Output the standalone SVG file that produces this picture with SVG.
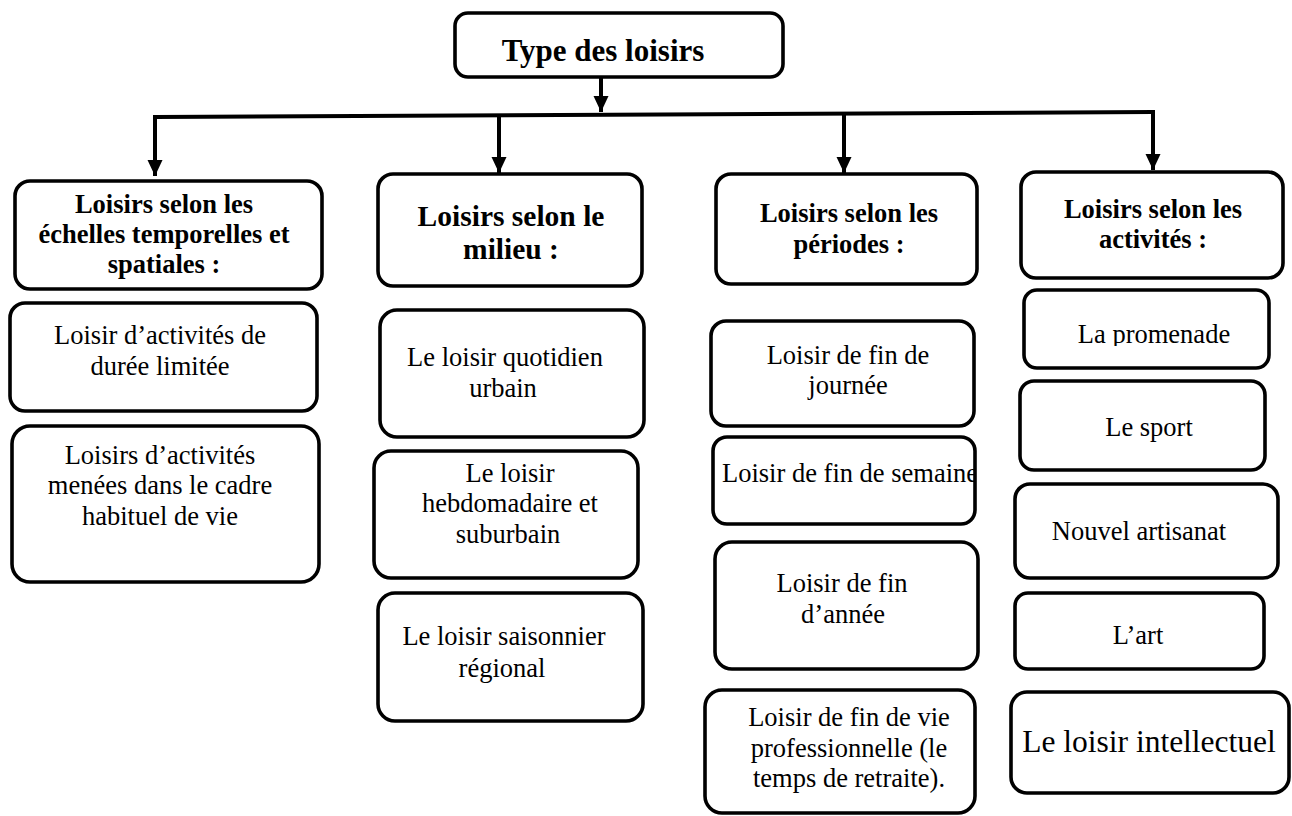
<svg xmlns="http://www.w3.org/2000/svg" width="1292" height="816" viewBox="0 0 1292 816">
<style>
.box{fill:#fff;stroke:#000;stroke-width:3.6}
.t{font-family:"Liberation Serif","Times New Roman",serif;font-size:26.5px;fill:#000;text-anchor:middle}
.b{font-weight:bold}
.conn{fill:none;stroke:#000;stroke-width:4}
</style>
<defs>
<marker id="ah" markerUnits="userSpaceOnUse" markerWidth="17" markerHeight="16" refX="16" refY="8" orient="auto">
<path d="M0,0.5 L16,8 L0,15.5 Z" fill="#000"/>
</marker>
<clipPath id="c3b"><rect x="700" y="430" width="275" height="100"/></clipPath>
<clipPath id="c4a"><rect x="1020" y="290" width="260" height="56"/></clipPath>
</defs>
<rect width="1292" height="816" fill="#fff"/>
<g id="connectors">
<path class="conn" d="M601,77 V112" marker-end="url(#ah)"/>
<path class="conn" d="M155,117 L1153,112"/>
<path class="conn" d="M155,115 V176" marker-end="url(#ah)"/>
<path class="conn" d="M499,115 V173" marker-end="url(#ah)"/>
<path class="conn" d="M844,114 V173" marker-end="url(#ah)"/>
<path class="conn" d="M1153,110 V170" marker-end="url(#ah)"/>
</g>
<g id="root">
<rect class="box" x="455" y="13" width="328" height="64" rx="13"/>
<text class="t b" x="603" y="61" style="font-size:31px">Type des loisirs</text>
</g>
<g id="h1">
<rect class="box" x="15" y="181" width="307" height="108" rx="15"/>
<text class="t b" x="164" y="213">Loisirs selon les</text>
<text class="t b" x="164" y="243">échelles temporelles et</text>
<text class="t b" x="164" y="273">spatiales :</text>
</g>
<g id="h2">
<rect class="box" x="378" y="174" width="264" height="112" rx="15"/>
<text class="t b" x="511" y="226" style="font-size:29.5px">Loisirs selon le</text>
<text class="t b" x="511" y="259" style="font-size:29.5px">milieu :</text>
</g>
<g id="h3">
<rect class="box" x="716" y="174" width="261" height="110" rx="15"/>
<text class="t b" x="849" y="222">Loisirs selon les</text>
<text class="t b" x="849" y="253">périodes :</text>
</g>
<g id="h4">
<rect class="box" x="1021" y="172" width="262" height="106" rx="15"/>
<text class="t b" x="1153" y="218">Loisirs selon les</text>
<text class="t b" x="1153" y="248">activités :</text>
</g>
<g id="c1a">
<rect class="box" x="10" y="303" width="307" height="108" rx="15"/>
<text class="t" x="160" y="344">Loisir d’activités de</text>
<text class="t" x="160" y="375">durée limitée</text>
</g>
<g id="c1b">
<rect class="box" x="12" y="426" width="307" height="156" rx="18"/>
<text class="t" x="160" y="464">Loisirs d’activités</text>
<text class="t" x="160" y="494">menées dans le cadre</text>
<text class="t" x="160" y="525">habituel de vie</text>
</g>
<g id="c2a">
<rect class="box" x="380" y="310" width="264" height="127" rx="17"/>
<text class="t" x="505" y="366">Le loisir quotidien</text>
<text class="t" x="503" y="397">urbain</text>
</g>
<g id="c2b">
<rect class="box" x="374" y="451" width="264" height="127" rx="17"/>
<text class="t" x="510" y="482">Le loisir</text>
<text class="t" x="510" y="512">hebdomadaire et</text>
<text class="t" x="508" y="543">suburbain</text>
</g>
<g id="c2c">
<rect class="box" x="378" y="593" width="265" height="128" rx="17"/>
<text class="t" x="504" y="645">Le loisir saisonnier</text>
<text class="t" x="502" y="677">régional</text>
</g>
<g id="c3a">
<rect class="box" x="711" y="321" width="263" height="105" rx="15"/>
<text class="t" x="848" y="364">Loisir de fin de</text>
<text class="t" x="848" y="394">journée</text>
</g>
<g id="c3b">
<rect class="box" x="713" y="437" width="262" height="87" rx="14"/>
<text class="t" x="722" y="482" style="text-anchor:start" clip-path="url(#c3b)">Loisir de fin de semaine</text>
</g>
<g id="c3c">
<rect class="box" x="715" y="542" width="263" height="127" rx="17"/>
<text class="t" x="842" y="592">Loisir de fin</text>
<text class="t" x="843" y="623">d’année</text>
</g>
<g id="c3d">
<rect class="box" x="705" y="690" width="270" height="123" rx="17"/>
<text class="t" x="849" y="726">Loisir de fin de vie</text>
<text class="t" x="849" y="757">professionnelle (le</text>
<text class="t" x="849" y="787">temps de retraite).</text>
</g>
<g id="c4a">
<rect class="box" x="1024" y="290" width="245" height="78" rx="13"/>
<text class="t" x="1154" y="343" clip-path="url(#c4a)">La promenade</text>
</g>
<g id="c4b">
<rect class="box" x="1020" y="381" width="245" height="89" rx="14"/>
<text class="t" x="1149" y="436">Le sport</text>
</g>
<g id="c4c">
<rect class="box" x="1015" y="484" width="263" height="94" rx="15"/>
<text class="t" x="1139" y="540">Nouvel artisanat</text>
</g>
<g id="c4d">
<rect class="box" x="1015" y="593" width="249" height="76" rx="13"/>
<text class="t" x="1138" y="644">L’art</text>
</g>
<g id="c4e">
<rect class="box" x="1011" y="692" width="278" height="101" rx="16"/>
<text class="t" x="1149" y="752" style="font-size:31.5px">Le loisir intellectuel</text>
</g>
</svg>
